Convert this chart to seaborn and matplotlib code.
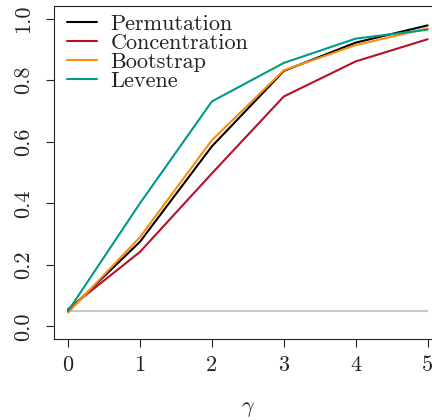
import numpy as np
import pandas as pd
import matplotlib
matplotlib.use("Agg")
import matplotlib.pyplot as plt
import seaborn as sns
from matplotlib.lines import Line2D

gamma = [0, 1, 2, 3, 4, 5]
permutation = [0.050, 0.275, 0.585, 0.830, 0.922, 0.978]
concentration = [0.056, 0.242, 0.497, 0.747, 0.861, 0.933]
bootstrap = [0.045, 0.290, 0.605, 0.832, 0.914, 0.968]
levene = [0.050, 0.400, 0.731, 0.856, 0.935, 0.964]
methods = ["Permutation", "Concentration", "Bootstrap", "Levene"]
colors = ["#000000", "#B3122A", "#FA8C0F", "#00998A"]
nominal_level = 0.05
y_ticks = [0.0, 0.2, 0.4, 0.6, 0.8, 1.0]
y_tick_labels = ["0.0", "0.2", "0.4", "0.6", "0.8", "1.0"]

sns.set_style("ticks")
plt.rcParams["font.family"] = ["cmr10", "DejaVu Serif"]
plt.rcParams["mathtext.fontset"] = "cm"
plt.rcParams["axes.formatter.use_mathtext"] = True
plt.rcParams["axes.unicode_minus"] = False

rows = []
for m, vals in zip(methods, [permutation, concentration, bootstrap, levene]):
    for g, v in zip(gamma, vals):
        rows.append({"gamma": g, "power": v, "method": m})
df = pd.DataFrame(rows)

fig = plt.figure(figsize=(4.32, 4.20), dpi=100)
ax = fig.add_axes([53.7 / 432, 81.3 / 420, 388.3 / 432, 332.4 / 420])

ax.hlines(nominal_level, gamma[0], gamma[-1], color="#C8C8C8", lw=1.5, zorder=1)

sns.lineplot(data=df, x="gamma", y="power", hue="method", hue_order=methods,
             palette=colors, lw=1.5, ax=ax, legend=False, zorder=2)

ax.set_xlim(-0.2, 5.2)
ax.set_ylim(-0.04, 1.04)
ax.set_xticks(gamma)
ax.set_xticklabels([str(g) for g in gamma])
ax.set_yticks(y_ticks)
ax.set_yticklabels(y_tick_labels, rotation=90, va="center")
ax.tick_params(axis="both", direction="out", length=6, width=0.8, color="#222222",
               labelsize=16, labelcolor="#222222")
ax.tick_params(axis="x", pad=6)
ax.tick_params(axis="y", pad=9)
for s in ax.spines.values():
    s.set_visible(True)
    s.set_linewidth(0.8)
    s.set_color("#222222")

ax.set_xlabel(r"$\gamma$", fontsize=16, labelpad=18)
ax.set_ylabel("")

handles = [Line2D([0], [0], color=c, lw=1.5) for c in colors]
leg = ax.legend(handles, methods, loc="upper left", bbox_to_anchor=(0.0335, 0.975),
                frameon=False, fontsize=16, handlelength=1.36, handletextpad=0.6,
                borderpad=0, borderaxespad=0, labelspacing=-0.03)
for t in leg.get_texts():
    t.set_color("#222222")

fig.savefig("out.png", dpi=100)
